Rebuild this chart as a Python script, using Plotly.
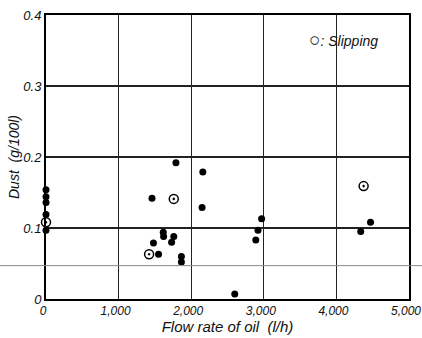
import plotly.graph_objects as go

# Normal (non-slipping) measurements
flow_normal = [0, 0, 0, 0, 0, 1790, 2160, 1460, 2150, 1615, 1620, 1760, 1730, 1480, 1550, 1865, 1865,
               2970, 2920, 2890, 4470, 4335, 2600]
dust_normal = [0.154, 0.144, 0.136, 0.119, 0.097, 0.192, 0.179, 0.142, 0.129, 0.094, 0.088, 0.088, 0.080,
               0.079, 0.063, 0.060, 0.052, 0.113, 0.097, 0.083, 0.108, 0.095, 0.007]
# Slipping measurements
flow_slip = [0, 1760, 1420, 4375]
dust_slip = [0.108, 0.141, 0.063, 0.159]

x_ticks = [0, 1000, 2000, 3000, 4000, 5000]
x_labels = ["0", "1,000", "2,000", "3,000", "4,000", "5,000"]
y_ticks = [0, 0.1, 0.2, 0.3, 0.4]
y_labels = ["0", "0.1", "0.2", "0.3", "0.4"]

REG = "Liberation Sans, Arial"

fig = go.Figure()
fig.add_trace(go.Scatter(x=flow_normal, y=dust_normal, mode="markers",
                         marker=dict(symbol="circle", size=7, color="black"),
                         cliponaxis=False, showlegend=False, hoverinfo="skip"))
fig.add_trace(go.Scatter(x=flow_slip, y=dust_slip, mode="markers",
                         marker=dict(symbol="circle-dot", size=9, color="white",
                                     line=dict(color="black", width=1.5)),
                         cliponaxis=False, showlegend=False, hoverinfo="skip"))

# faint scan line across the page
fig.add_shape(type="line", xref="paper", yref="y", x0=-0.13, x1=1.04, y0=0.047, y1=0.047,
              line=dict(color="#888888", width=1))

axis_common = dict(showgrid=True, gridcolor="#222222", gridwidth=1.3, zeroline=False,
                   showline=True, linecolor="black", linewidth=2, mirror=True, ticks="",
                   automargin=False, ticklabeloverflow="allow")

fig.update_xaxes(range=[0, 5000], tickvals=x_ticks, ticktext=x_labels, ticklabelshift=-3,
                 tickfont=dict(family=REG, size=12, color="#111", style="italic"),
                 title=dict(text="Flow rate of oil  (l/h)", standoff=0,
                            font=dict(family=REG, size=15, color="#111", style="italic")),
                 **axis_common)
fig.update_yaxes(range=[0, 0.4], tickvals=y_ticks, ticktext=y_labels,
                 tickfont=dict(family=REG, size=13, color="#111", style="italic"),
                 title=dict(text="Dust  (g/100l)", standoff=0,
                            font=dict(family=REG, size=14, color="#111", style="italic")),
                 **axis_common)

fig.add_annotation(xref="paper", yref="paper", x=0.92, y=0.915, xanchor="right", yanchor="middle",
                   text="<span style='font-size:19px;font-style:normal'>○</span>: Slipping",
                   showarrow=False,
                   font=dict(family=REG, size=14, color="#111", style="italic"))

fig.update_layout(width=422, height=338, margin=dict(l=46, r=13, t=15, b=39),
                  paper_bgcolor="white", plot_bgcolor="white", hovermode=False)
fig.write_html("out.html", config={"displayModeBar": False, "staticPlot": True},
               post_script="document.body.style.margin='0';document.body.style.overflow='hidden';")
